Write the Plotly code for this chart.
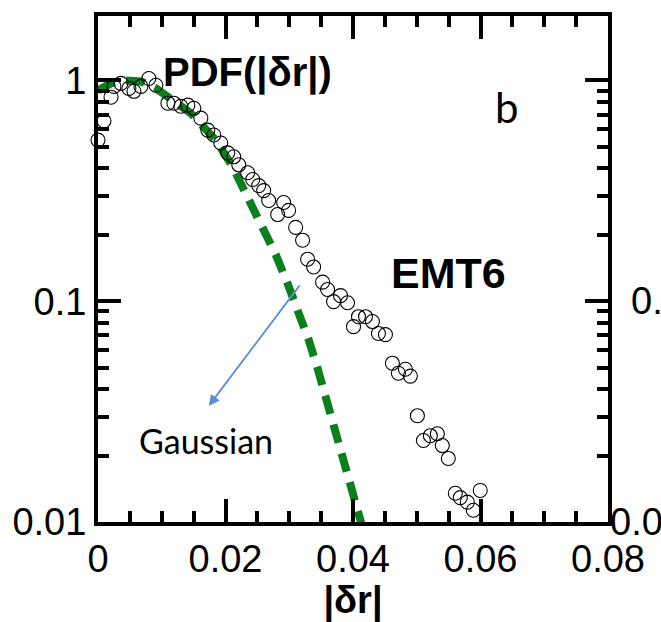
import plotly.graph_objects as go

# measured PDF(|dr|) points, EMT6
dr_data = [0.0000, 0.00094, 0.00204, 0.00250, 0.00360, 0.00485, 0.00564, 0.00673, 0.00798, 0.00908,
           0.01096, 0.01190, 0.01299, 0.01409, 0.01503, 0.01613, 0.01722, 0.01816, 0.01926, 0.02035,
           0.02129, 0.02208, 0.02348, 0.02427, 0.02521, 0.02599, 0.02677, 0.02818, 0.02912, 0.02990,
           0.03100, 0.03209, 0.03288, 0.03382, 0.03523, 0.03601, 0.03695, 0.03804, 0.03914, 0.04008,
           0.04086, 0.04196, 0.04305, 0.04399, 0.04509, 0.04618, 0.04712, 0.04822, 0.04900, 0.05010,
           0.05104, 0.05213, 0.05323, 0.05401, 0.05495, 0.05605, 0.05683, 0.05793, 0.05887, 0.05996]
pdf_data = [0.537, 0.655, 0.840, 0.940, 0.970, 0.921, 0.893, 0.940, 1.021, 0.951,
            0.789, 0.789, 0.764, 0.773, 0.748, 0.675, 0.596, 0.566, 0.521, 0.470,
            0.451, 0.415, 0.382, 0.356, 0.334, 0.317, 0.286, 0.247, 0.280, 0.258,
            0.216, 0.189, 0.155, 0.143, 0.122, 0.113, 0.0996, 0.106, 0.0984, 0.0767,
            0.0851, 0.0851, 0.0809, 0.0714, 0.0706, 0.0524, 0.0472, 0.0492, 0.0458, 0.0303,
            0.0234, 0.0246, 0.0251, 0.0222, 0.0194, 0.0135, 0.0129, 0.0123, 0.0113, 0.0139]

# Gaussian reference curve
dr_gauss = [0.0000, 0.00204, 0.00438, 0.00673, 0.00908, 0.01143, 0.01456, 0.01847, 0.02114, 0.02348,
            0.02583, 0.02787, 0.02975, 0.03147, 0.03303, 0.03444, 0.03585, 0.03710, 0.03867, 0.03977,
            0.04086, 0.04133]
pdf_gauss = [0.902, 0.970, 1.000, 0.990, 0.921, 0.830, 0.711, 0.537, 0.406, 0.295,
             0.216, 0.163, 0.120, 0.0906, 0.0671, 0.0497, 0.0357, 0.0267, 0.0198, 0.0148,
             0.0111, 0.0098]

x_ticks = [0, 0.02, 0.04, 0.06, 0.08]
x_ticktext = ["0", "0.02", "0.04", "0.06", "0.08"]
y_ticks = [0.01, 0.1, 1]
y_ticktext = ["0.01", "0.1", "1"]

fig = go.Figure()
fig.add_trace(go.Scatter(
    x=dr_gauss, y=pdf_gauss, mode="lines",
    line=dict(color="#0a7f1c", width=8, dash="19px,11px"),
    showlegend=False, cliponaxis=True))
fig.add_trace(go.Scatter(
    x=dr_data, y=pdf_data, mode="markers",
    marker=dict(symbol="circle-open", size=14, color="black", line=dict(width=1.1, color="black")),
    showlegend=False, cliponaxis=False))

axis_font = dict(family="Liberation Sans, Arial, sans-serif", size=38, color="black")

fig.update_xaxes(
    range=[0, 0.08], tickvals=x_ticks, ticktext=x_ticktext,
    ticks="inside", ticklen=23, tickwidth=4, tickcolor="black",
    minor=dict(dtick=0.005, tick0=0, ticks="inside", ticklen=11, tickwidth=4, tickcolor="black"),
    showline=True, linewidth=4, linecolor="black", mirror="ticks",
    showgrid=False, zeroline=False, tickfont=axis_font,
    title=dict(text="<b>|δr|</b>", font=dict(family="Liberation Sans, Arial, sans-serif", size=38, color="black"), standoff=0),
)
fig.update_yaxes(
    type="log", range=[-2, 0.292], tickvals=y_ticks, ticktext=y_ticktext,
    ticks="inside", ticklen=23, tickwidth=4, tickcolor="black",
    minor=dict(dtick="D1", ticks="inside", ticklen=11, tickwidth=4, tickcolor="black"),
    showline=True, linewidth=4, linecolor="black", mirror="ticks",
    showgrid=False, zeroline=False, tickfont=axis_font,
)

bold = dict(family="Liberation Sans, Arial, sans-serif", size=40, color="black")
fig.add_annotation(x=0.0234, y=0.035, xref="x", yref="y", text="<b>PDF(|δr|)</b>",
                   showarrow=False, font=bold, xanchor="center", yanchor="middle")
fig.add_annotation(x=0.0550, y=-0.87, xref="x", yref="y", text="<b>EMT6</b>",
                   showarrow=False, font=dict(family="Liberation Sans, Arial, sans-serif", size=43, color="black"),
                   xanchor="center", yanchor="middle")
fig.add_annotation(x=0.0642, y=-0.12, xref="x", yref="y", text="b",
                   showarrow=False, font=dict(family="Lato, sans-serif", size=42, color="black"),
                   xanchor="center", yanchor="middle")
fig.add_annotation(x=0.0169, y=-1.63, xref="x", yref="y", text="Gaussian",
                   showarrow=False, font=dict(family="Lato, sans-serif", size=34, color="black"),
                   xanchor="center", yanchor="middle")
# arrow pointing from the Gaussian curve to the label
fig.add_annotation(x=0.01738, y=-1.474, xref="x", yref="y", text="", showarrow=True,
                   ax=92, ay=-122, arrowhead=2, arrowsize=1.2, arrowwidth=1.8, arrowcolor="#5b8fd0")
# clipped tick labels of the neighbouring panel
for v, t in [(-1, "0.1"), (-2, "0.01")]:
    fig.add_annotation(x=1.1527, y=v, xref="paper", yref="y", text=t, showarrow=False,
                       font=axis_font, xanchor="right", yanchor="middle")

fig.update_layout(
    width=661, height=622,
    margin=dict(l=97, r=53, t=12, b=100),
    paper_bgcolor="white", plot_bgcolor="white",
)
fig.write_html("out.html")
